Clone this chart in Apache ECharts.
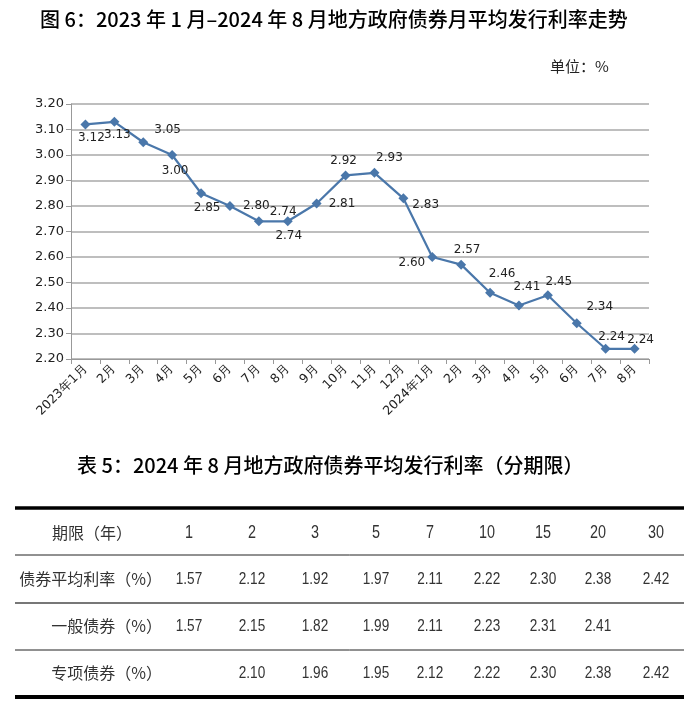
<!DOCTYPE html>
<html>
<head>
<meta charset="utf-8">
<title>地方政府债券月平均发行利率走势</title>
<script src="https://cdn.jsdelivr.net/npm/echarts@6/dist/echarts.min.js"></script>
<style>
  html, body { margin: 0; padding: 0; background: #fff; }
  #chart { width: 700px; height: 717px; }
</style>
</head>
<body>
<div id="chart"></div>
<script>
// 图6 数据：月份与月平均发行利率
const months = ['2023年1月', '2月', '3月', '4月', '5月', '6月', '7月', '8月', '9月', '10月', '11月', '12月',
  '2024年1月', '2月', '3月', '4月', '5月', '6月', '7月', '8月'];
const rates = [3.12, 3.13, 3.05, 3.00, 2.85, 2.80, 2.74, 2.74, 2.81, 2.92, 2.93, 2.83,
  2.60, 2.57, 2.46, 2.41, 2.45, 2.34, 2.24, 2.24];

// 表5 数据：分期限平均发行利率
const tenors = ['1', '2', '3', '5', '7', '10', '15', '20', '30'];
const avgRate = [1.57, 2.12, 1.92, 1.97, 2.11, 2.22, 2.30, 2.38, 2.42];
const generalRate = [1.57, 2.15, 1.82, 1.99, 2.11, 2.23, 2.31, 2.41, null];
const specialRate = [null, 2.10, 1.96, 1.95, 2.12, 2.22, 2.30, 2.38, 2.42];
const rowNames = ['债券平均利率（%）', '一般债券（%）', '专项债券（%）'];

// 数据标签的摆放（样式，不是数据）
const labelPlace = [
  ['bottom', [6, -2]], ['bottom', [3, -2]], ['right', [2, -12]], ['bottom', [3, 1]],
  ['bottom', [6, 0]], ['right', [4, 0]], ['right', [2, -9]], ['bottom', [1, 0]],
  ['right', [3, 0]], ['top', [-2, 0]], ['top', [15, 0]], ['right', [0, 7]],
  ['left', [2, 6]], ['top', [6, 0]], ['top', [12, -4]], ['top', [8, -4]],
  ['top', [11, 2]], ['top', [23, -1]], ['top', [6, 3]], ['top', [6, 6]]
];

const chart = echarts.init(document.getElementById('chart'));

const cjk = '"Noto Sans CJK SC", "Noto Sans", sans-serif';
const latin = '"Liberation Sans", Arial, sans-serif';
const dejavu = '"DejaVu Sans", sans-serif';

// 表格
const colX = [189, 252, 315, 376, 430, 487, 543, 598, 656];
const rowY = [533, 579, 626, 673];
const tableLines = [
  { y: 508, w: 3.5, c: '#000' },
  { y: 555, w: 1, c: '#222' },
  { y: 603, w: 2, c: '#777' },
  { y: 650, w: 1, c: '#222' },
  { y: 697, w: 4, c: '#000' }
];

const graphics = [];
graphics.push({
  type: 'text', left: 40, top: 9,
  style: { text: '图 6：2023 年 1 月–2024 年 8 月地方政府债券月平均发行利率走势', font: '500 20px ' + cjk, fill: '#000' }
});
graphics.push({
  type: 'text', left: 550, top: 59,
  style: { text: '单位：%', font: '15px ' + cjk, fill: '#222' }
});
graphics.push({
  type: 'text', left: 77, top: 455,
  style: { text: '表 5：2024 年 8 月地方政府债券平均发行利率（分期限）', font: '500 20px ' + cjk, fill: '#000' }
});
tableLines.forEach(l => {
  graphics.push({
    type: 'line', shape: { x1: 15, y1: l.y, x2: 684, y2: l.y },
    style: { stroke: l.c, lineWidth: l.w }
  });
});
graphics.push({
  type: 'text', x: 92, y: rowY[0],
  style: { text: '期限（年）', font: '16px ' + cjk, fill: '#333', align: 'center', verticalAlign: 'middle' }
});
tenors.forEach((t, i) => {
  graphics.push({
    type: 'text', x: colX[i], y: rowY[0], scaleX: 0.8,
    style: { text: t, font: '18px ' + latin, fill: '#333', align: 'center', verticalAlign: 'middle' }
  });
});
[avgRate, generalRate, specialRate].forEach((row, r) => {
  graphics.push({
    type: 'text', x: 162, y: rowY[r + 1],
    style: { text: rowNames[r], font: '16px ' + cjk, fill: '#333', align: 'right', verticalAlign: 'middle' }
  });
  row.forEach((v, i) => {
    if (v == null) return;
    graphics.push({
      type: 'text', x: colX[i], y: rowY[r + 1], scaleX: 0.8,
      style: { text: v.toFixed(2), font: '17px ' + latin, fill: '#333', align: 'center', verticalAlign: 'middle' }
    });
  });
});

const option = {
  animation: false,
  backgroundColor: '#fff',
  grid: { left: 71, right: 51, top: 104, bottom: 358 },
  xAxis: {
    type: 'category',
    data: months,
    boundaryGap: true,
    axisLine: { lineStyle: { color: '#999', width: 1 } },
    axisTick: { show: true, length: 5, lineStyle: { color: '#999' } },
    axisLabel: {
      rotate: 45, interval: 0, margin: 8,
      fontFamily: dejavu, fontSize: 12.5, color: '#222'
    }
  },
  yAxis: {
    type: 'value',
    min: 2.2, max: 3.2, interval: 0.1,
    axisLine: { show: true, lineStyle: { color: '#999' } },
    axisTick: { show: true, length: 5, lineStyle: { color: '#999' } },
    splitLine: { lineStyle: { color: '#a8a8a8', width: 1.5 } },
    axisLabel: {
      formatter: v => v.toFixed(2),
      fontFamily: dejavu, fontSize: 13, color: '#222', margin: 7
    }
  },
  series: [{
    type: 'line',
    data: rates.map((v, i) => ({
      value: v,
      label: { position: labelPlace[i][0], offset: labelPlace[i][1] }
    })),
    symbol: 'diamond',
    symbolSize: 10,
    lineStyle: { color: '#4a77aa', width: 2.2 },
    itemStyle: { color: '#4a77aa' },
    label: {
      show: true,
      formatter: p => p.value.toFixed(2),
      fontFamily: dejavu, fontSize: 12, color: '#222', distance: 4
    }
  }],
  graphic: graphics
};

chart.setOption(option);
</script>
</body>
</html>
